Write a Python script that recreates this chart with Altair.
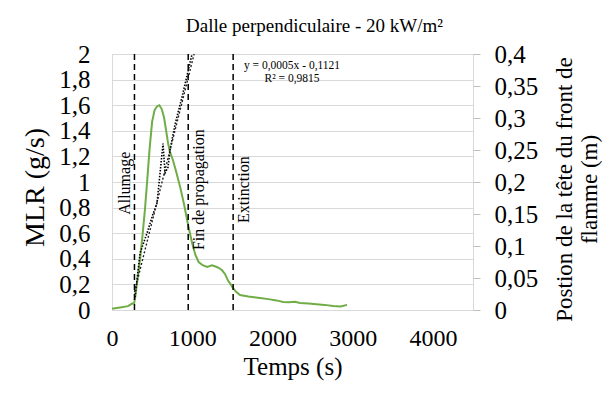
import altair as alt
import pandas as pd

FONT = "'Liberation Serif', 'Times New Roman', serif"

# MLR curve (g/s) vs time (s)
mlr_t = [0, 100, 200, 250, 275, 290, 320, 350, 380, 410, 440, 470, 500, 530, 560, 590,
         620, 650, 680, 700, 720, 760, 800, 850, 900, 950, 1000, 1040, 1080, 1130, 1185,
         1247, 1290, 1330, 1372, 1410, 1446, 1480, 1509, 1550, 1596, 1700, 1845, 1950,
         2050, 2132, 2200, 2280, 2344, 2450, 2550, 2650, 2756, 2850, 2930]
mlr_v = [0.01, 0.02, 0.03, 0.05, 0.05, 0.1, 0.25, 0.4, 0.58, 0.78, 1.02, 1.27, 1.47,
         1.56, 1.59, 1.6, 1.57, 1.5, 1.38, 1.3, 1.24, 1.17, 1.08, 0.96, 0.82, 0.66, 0.52,
         0.43, 0.375, 0.35, 0.336, 0.35, 0.34, 0.33, 0.31, 0.28, 0.23, 0.2, 0.17, 0.14,
         0.117, 0.105, 0.094, 0.085, 0.075, 0.0625, 0.06, 0.065, 0.055, 0.05, 0.045,
         0.04, 0.031, 0.028, 0.04]

# Flame front head position (m)
front_t = [287, 350, 436, 511, 561, 636, 661, 698, 723, 786, 873, 998]
front_pos = [0.02, 0.089, 0.12, 0.15, 0.167, 0.26, 0.214, 0.223, 0.25, 0.29, 0.333, 0.4]

# Linear trendline endpoints
trend_t = [280, 1024]
trend_pos = [0.028, 0.4]

# Event markers
event_t = [280, 950, 1510]
event_label = ["Allumage", "Fin de propagation", "Extinction"]
event_y = [0.99, 0.94, 0.94]

eq_lines = ["y = 0,0005x - 0,1121", "R² = 0,9815"]
eq_t = [2244, 2244]
eq_pos = [0.381, 0.361]

x_ticks = [0, 1000, 2000, 3000, 4000]
left_ticks = [0, 0.2, 0.4, 0.6, 0.8, 1.0, 1.2, 1.4, 1.6, 1.8, 2.0]
right_ticks = [0, 0.05, 0.1, 0.15, 0.2, 0.25, 0.3, 0.35, 0.4]

mlr_df = pd.DataFrame({"t": mlr_t, "v": mlr_v})
front_df = pd.DataFrame({"t": front_t, "p": front_pos})
trend_df = pd.DataFrame({"t": trend_t, "p": trend_pos})
event_df = pd.DataFrame({"t": event_t, "label": event_label, "v": event_y})
eq_df = pd.DataFrame({"t": eq_t, "p": eq_pos, "txt": eq_lines})

comma = "replace(format(datum.value, '~g'), '.', ',')"

x_scale = alt.Scale(domain=[0, 4500], nice=False, zero=False)
x_axis = alt.Axis(values=x_ticks, labelExpr="format(datum.value, 'd')", title="Temps (s)",
                  grid=False, ticks=False, domain=False,
                  labelFontSize=24, labelPadding=16,
                  titleFontSize=25, titlePadding=4, labelFlush=False)

yl_scale = alt.Scale(domain=[0, 2], nice=False)
yl_axis = alt.Axis(values=left_ticks, labelExpr=comma, title="MLR (g/s)", grid=True,
                   gridColor="#d9d9d9", ticks=False, domain=False,
                   labelFontSize=25, labelPadding=22,
                   titleFontSize=28, titleAngle=270, titleX=-69, titleY=133,
                   titleAlign="center", titleBaseline="alphabetic")

yr_scale = alt.Scale(domain=[0, 0.4], nice=False)
yr_axis = alt.Axis(orient="right", values=right_ticks, labelExpr=comma,
                   title=["Postion de la tête du front de", "flamme (m)"], grid=False,
                   ticks=True, tickColor="#bfbfbf", tickSize=7, domain=False,
                   labelFontSize=25, labelPadding=14,
                   titleFontSize=23, titleAngle=270, titleX=80, titleY=135,
                   titleAlign="center", titleBaseline="top", titleLineHeight=25)

X = alt.X("t:Q", scale=x_scale, axis=x_axis)

green = alt.Chart(mlr_df).mark_line(color="#70AD47", strokeWidth=2).encode(
    x=X, y=alt.Y("v:Q", scale=yl_scale, axis=yl_axis))

rules = alt.Chart(event_df).mark_rule(color="black", strokeWidth=1.5,
                                      strokeDash=[6, 4]).encode(x=X)

txt_left = alt.Chart(event_df[event_df.label == "Allumage"]).mark_text(
    angle=270, baseline="bottom", align="center", font=FONT, fontSize=16,
    color="black", dy=-1).encode(
    x=X, y=alt.Y("v:Q", scale=yl_scale, axis=yl_axis), text="label:N")

txt_right = alt.Chart(event_df[event_df.label != "Allumage"]).mark_text(
    angle=270, baseline="top", align="center", font=FONT, fontSize=16,
    color="black", dy=3).encode(
    x=X, y=alt.Y("v:Q", scale=yl_scale, axis=yl_axis), text="label:N")

left = alt.layer(green, rules, txt_left, txt_right)

front = alt.Chart(front_df).mark_line(color="black", strokeWidth=1.6,
                                      strokeDash=[1.5, 1.5]).encode(
    x=X, y=alt.Y("p:Q", scale=yr_scale, axis=yr_axis))

trend = alt.Chart(trend_df).mark_line(color="#222222", strokeWidth=1.4,
                                      strokeDash=[2, 2]).encode(
    x=X, y=alt.Y("p:Q", scale=yr_scale, axis=yr_axis))

eq = alt.Chart(eq_df).mark_text(font=FONT, fontSize=11.5, color="black",
                                align="center", baseline="middle").encode(
    x=X, y=alt.Y("p:Q", scale=yr_scale, axis=yr_axis), text="txt:N")

right = alt.layer(front, trend, eq)

chart = alt.layer(left, right).resolve_scale(y="independent").properties(
    width=361, height=256,
    autosize=alt.AutoSizeParams(type="none"),
    padding={"left": 104, "top": 46, "right": 135, "bottom": 80},
    title=alt.Title("Dalle perpendiculaire - 20 kW/m²", fontSize=19,
                    anchor="middle", offset=6, dx=22),
).configure(
    background="white", font=FONT
).configure_view(
    stroke="#d9d9d9", strokeWidth=1
).configure_axis(
    labelFont=FONT, titleFont=FONT, labelColor="black", titleColor="black",
    titleFontWeight="normal"
).configure_title(
    font=FONT, fontWeight="normal", color="black"
)

chart.save("out.html", embed_options={"renderer": "svg", "actions": False})
